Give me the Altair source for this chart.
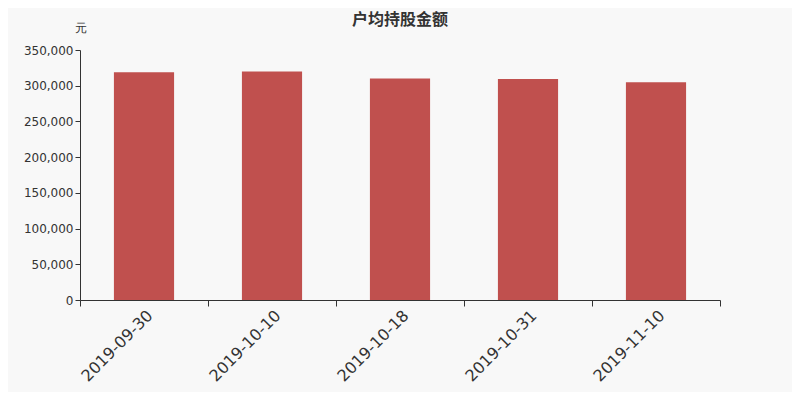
import altair as alt
import pandas as pd

dates = ["2019-09-30", "2019-10-10", "2019-10-18", "2019-10-31", "2019-11-10"]
values = [319000, 320000, 310000, 309500, 305000]

df = pd.DataFrame({"date": dates, "value": values})

chart = alt.Chart(df).mark_bar(color="#c0504e", width=alt.RelativeBandSize(0.47)).encode(
    x=alt.X("date:N", sort=dates, title=None,
            scale=alt.Scale(paddingInner=0, paddingOuter=0),
            axis=alt.Axis(labelAngle=-45, labelFontSize=16, labelColor="#333333",
                          tickBand="extent", domainColor="#333333", tickColor="#333333",
                          tickSize=6, labelPadding=1, labelFont="DejaVu Sans")),
    y=alt.Y("value:Q", title="元",
            scale=alt.Scale(domain=[0, 350000]),
            axis=alt.Axis(values=[0, 50000, 100000, 150000, 200000, 250000, 300000, 350000],
                          format=",.0f", grid=False, labelFontSize=12, labelColor="#333333",
                          domainColor="#333333", tickColor="#333333", tickSize=5,
                          labelFont="DejaVu Sans",
                          titleAngle=0, titleAnchor="end", titleAlign="right",
                          titleBaseline="bottom", titleX=6, titleY=-16,
                          titleFontSize=12, titleFontWeight="normal", titleColor="#333333")),
).properties(
    width=640, height=250,
    background="#f8f8f8",
    padding={"left": 72, "top": 42, "right": 72, "bottom": 92},
    autosize=alt.AutoSizeParams(type="none"),
    title=alt.TitleParams("户均持股金额", fontSize=16, fontWeight="bold", color="#333333",
                          anchor="middle", offset=-7, font="Noto Sans CJK SC"),
).configure_view(stroke=None)

chart.save("out.html", embed_options={"renderer": "svg", "actions": False})
